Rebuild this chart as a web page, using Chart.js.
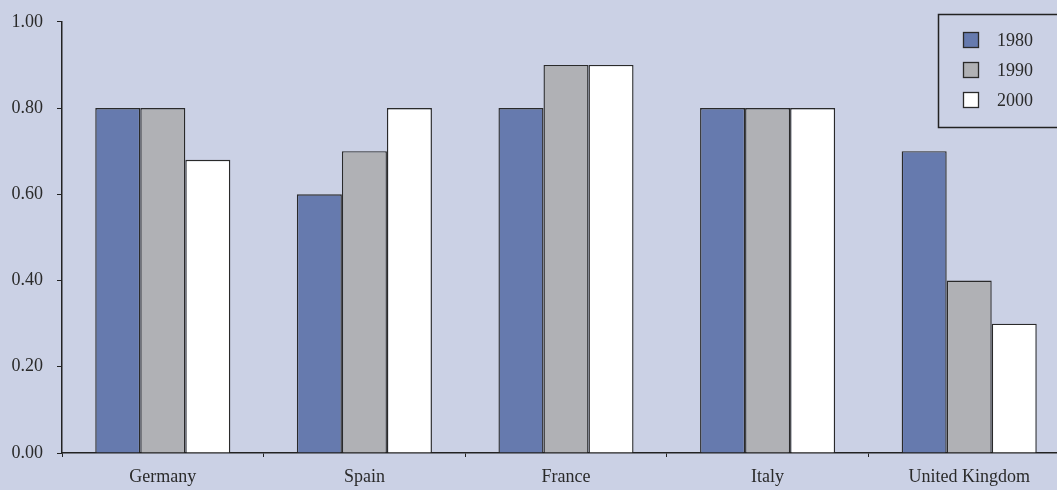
<!DOCTYPE html>
<html>
<head>
<meta charset="utf-8">
<script src="https://cdn.jsdelivr.net/npm/chart.js@4"></script>
<style>
  html, body { margin: 0; padding: 0; overflow: hidden; background: #cbd1e5; }
  canvas { display: block; margin-top: -3px; }
</style>
</head>
<body>
<canvas id="chart" width="1070" height="493"></canvas>
<script>
    // categorias e series
    const countries = ['Germany', 'Spain', 'France', 'Italy', 'United Kingdom'];
    const years = ['1980', '1990', '2000'];
    const values1980 = [0.80, 0.60, 0.80, 0.80, 0.70];
    const values1990 = [0.80, 0.70, 0.90, 0.80, 0.40];
    const values2000 = [0.68, 0.80, 0.90, 0.80, 0.30];
    const colors = ['#667aae', '#b0b1b5', '#ffffff'];

    const serieValues = [values1980, values1990, values2000];
    const fonte = '"Liberation Serif", serif';

    // legenda desenhada a mao, caixa no canto superior direito
    const boxLegend = {
        id: 'boxLegend',
        afterDraw(chart) {
            const c = chart.ctx;
            c.save();
            c.strokeStyle = '#222';
            c.lineWidth = 1.5;
            c.strokeRect(938.5, 17.5, 200, 113);
            c.font = '18px ' + fonte;
            c.textBaseline = 'middle';
            chart.data.datasets.forEach((ds, i) => {
                const y = 43 + i * 30;
                c.fillStyle = ds.backgroundColor;
                c.fillRect(963, y - 8, 16, 16);
                c.strokeStyle = '#2a2a2a';
                c.lineWidth = 1.3;
                c.strokeRect(963.5, y - 7.5, 15, 15);
                c.fillStyle = '#2a2a2a';
                c.fillText(ds.label, 997, y + 1);
            });
            c.restore();
        }
    };

    const ctx = document.getElementById('chart');
    new Chart(ctx, {
        type: 'bar',
        data: {
            labels: countries,
            datasets: years.map((y, i) => ({
                label: y,
                data: serieValues[i],
                backgroundColor: colors[i],
                borderColor: '#2a2a2a',
                borderWidth: 1.4,
                categoryPercentage: 0.67,
                barPercentage: 1
            }))
        },
        options: {
            responsive: false,
            animation: false,
            layout: { padding: { top: 18, right: 0, bottom: 0, left: 0 } },
            plugins: { legend: { display: false }, tooltip: { enabled: false } },
            scales: {
                x: {
                    offset: true,
                    grid: { offset: true, drawOnChartArea: false, drawTicks: true, tickLength: 4, color: '#222', lineWidth: 1 },
                    border: { display: true, color: '#222', width: 1.5 },
                    ticks: { color: '#2a2a2a', padding: 9, maxRotation: 0, font: { family: fonte, size: 18 } },
                    afterFit(scale) { scale.height = 37; }
                },
                y: {
                    min: 0,
                    max: 1,
                    ticks: {
                        stepSize: 0.2,
                        color: '#2a2a2a',
                        padding: 14,
                        font: { family: fonte, size: 18 },
                        callback: v => v.toFixed(2)
                    },
                    grid: { drawOnChartArea: false, drawTicks: true, tickLength: 5, color: '#222', lineWidth: 1 },
                    border: { display: true, color: '#222', width: 1.5 },
                    afterFit(scale) { scale.width = 62; }
                }
            }
        },
        plugins: [boxLegend]
    });
</script>
</body>
</html>
